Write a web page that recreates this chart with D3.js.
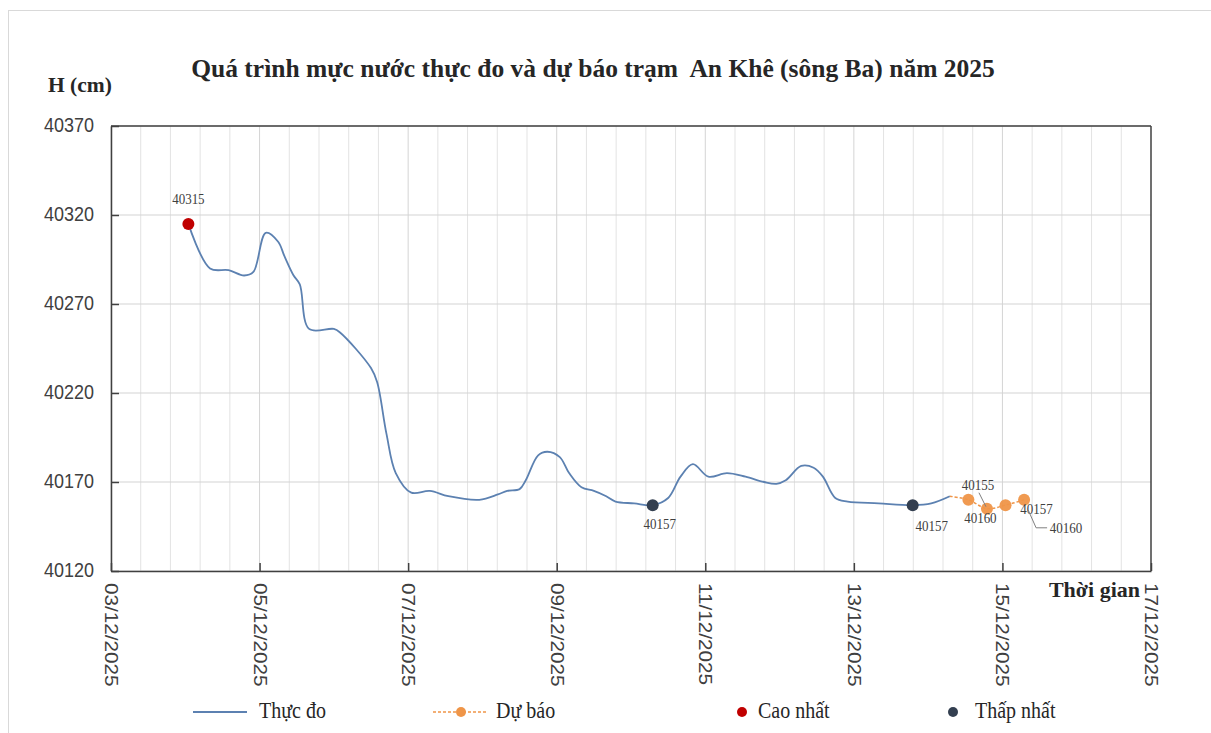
<!DOCTYPE html>
<html><head><meta charset="utf-8">
<script src="https://cdn.jsdelivr.net/npm/d3@7"></script>
<style>body{margin:0;background:#fff}text{fill:#262626;white-space:pre}</style>
</head><body><svg id="c" width="1211" height="733"></svg>
<script>
// ---------------- DATA ----------------
const obsTimes = [
 "04/12/2025 01:00","04/12/2025 08:00","04/12/2025 14:00","04/12/2025 19:00","04/12/2025 22:00",
 "05/12/2025 02:00","05/12/2025 06:00","05/12/2025 08:00","05/12/2025 11:00","05/12/2025 13:00","05/12/2025 16:00",
 "06/12/2025 00:00","06/12/2025 02:00","06/12/2025 12:00","06/12/2025 14:00","06/12/2025 17:00","06/12/2025 20:00",
 "07/12/2025 01:00","07/12/2025 07:00","07/12/2025 13:00","07/12/2025 23:00",
 "08/12/2025 05:00","08/12/2025 08:00","08/12/2025 12:00","08/12/2025 14:00","08/12/2025 18:00","08/12/2025 21:00",
 "09/12/2025 01:00","09/12/2025 04:00","09/12/2025 08:00","09/12/2025 12:00","09/12/2025 16:00","09/12/2025 19:00",
 "10/12/2025 01:00","10/12/2025 07:00","10/12/2025 12:00","10/12/2025 16:00","10/12/2025 20:00",
 "11/12/2025 01:00","11/12/2025 07:00","11/12/2025 13:00","11/12/2025 19:00","11/12/2025 23:00",
 "12/12/2025 02:00","12/12/2025 07:00","12/12/2025 11:00","12/12/2025 14:00","12/12/2025 18:00","12/12/2025 22:00",
 "13/12/2025 08:00","13/12/2025 19:00",
 "14/12/2025 01:00","14/12/2025 07:00"
];
const obsValues = [
 40315,40290,40289,40286,40288,
 40310,40305,40297,40286,40281,40256,
 40256,40254,40234,40226,40197,40175,
 40164,40165,40162,40160,
 40163,40165,40166,40171,40185,40187,
 40184,40175,40167,40165,40162,40159,
 40158,40157,40161,40173,40180,
 40173,40175,40173,40170,40169,
 40171,40179,40178,40173,40161,40159,
 40158,40157,
 40158,40162
];
const fcTimes  = ["14/12/2025 13:00","14/12/2025 19:00","15/12/2025 01:00","15/12/2025 07:00"];
const fcValues = [40160,40155,40157,40160];
const maxTimes = ["04/12/2025 01:00"];
const maxValues = [40315];
const minTimes = ["10/12/2025 07:00","13/12/2025 19:00"];
const minValues = [40157,40157];
const xTickLabels = ["03/12/2025","05/12/2025","07/12/2025","09/12/2025","11/12/2025","13/12/2025","15/12/2025","17/12/2025"];
const yTickValues = [40120,40170,40220,40270,40320,40370];
const titleText = "Quá trình mực nước thực đo và dự báo trạm  An Khê (sông Ba) năm 2025";
const yTitle = "H (cm)";
const xTitle = "Thời gian";
const legendLabels = ["Thực đo","Dự báo","Cao nhất","Thấp nhất"];

// ---------------- STYLE / LAYOUT ----------------
const C = {line:"#5c81b1", fc:"#ef9548", max:"#c00000", min:"#333f50", grid:"#d4d4d4", gridMinor:"#e3e3e3", axis:"#404040"};
const SERIF = "'Liberation Serif','Times New Roman',serif";
const SANS = "'Liberation Sans',Arial,sans-serif";
const P = {l:111, r:1151, t:126, b:571};
const SY = 1.15; // vertical text stretch
// label offsets (px) relative to their points
const fcLabelOff = [[12,23,false],[-9,-19,true],[31,9,false],[42,33,true]];
const minLabelOff = [[7,24],[19,26]];

const parse = d3.utcParse("%d/%m/%Y %H:%M");
const svg = d3.select("#c");
const x = d3.scaleUtc().domain([parse("03/12/2025 00:00"), parse("17/12/2025 00:00")]).range([P.l,P.r]);
const y = d3.scaleLinear().domain([40120,40370]).range([P.b,P.t]);

function txt(g, s, px, py, opt){
  const sy = opt.sy===undefined ? SY : opt.sy;
  const t = g.append("text").text(s)
    .attr("transform", `translate(${px},${py}) scale(1,${sy})` + (opt.rot?` rotate(${opt.rot})`:""))
    .style("font-family", opt.ff||SERIF).style("font-size", (opt.fs||13)+"px")
    .style("font-weight", opt.fw||"normal").attr("text-anchor", opt.anchor||"start");
  if(opt.fill) t.style("fill", opt.fill);
  return t;
}

// outer frame
svg.append("rect").attr("x",8.5).attr("y",10.5).attr("width",1240).attr("height",760)
  .attr("fill","none").attr("stroke","#d9d9d9");

// gridlines
const g = svg.append("g");
const x0 = parse("03/12/2025 00:00").getTime();
const DAY = 86400000;
d3.range(0, 35).forEach(i=>{
  const xx = x(new Date(x0 + i*0.4*DAY));
  g.append("line").attr("x1",xx).attr("x2",xx).attr("y1",P.t).attr("y2",P.b)
   .attr("stroke", i%5===0 ? C.grid : C.gridMinor).attr("stroke-width",1);
});
yTickValues.forEach(v=>{
  g.append("line").attr("x1",P.l).attr("x2",P.r).attr("y1",y(v)).attr("y2",y(v))
   .attr("stroke",C.grid).attr("stroke-width",1.2);
});

// axes
const xTicks = xTickLabels.map(s=>parse(s+" 00:00"));
const xa = svg.append("g").attr("transform",`translate(0,${P.b})`)
  .call(d3.axisBottom(x).tickValues(xTicks).tickSizeInner(-8).tickSizeOuter(0).tickFormat(""));
xa.select(".domain").attr("stroke",C.axis).attr("stroke-width",1.5);
xa.selectAll(".tick line").attr("stroke",C.axis).attr("stroke-width",1.5);
const ya = svg.append("g").attr("transform",`translate(${P.l},0)`)
  .call(d3.axisLeft(y).tickValues(yTickValues).tickSizeInner(-8).tickSizeOuter(0).tickFormat(""));
ya.select(".domain").attr("stroke",C.axis).attr("stroke-width",1.5);
ya.selectAll(".tick line").attr("stroke",C.axis).attr("stroke-width",1.5);
svg.append("line").attr("x1",P.l).attr("x2",P.r).attr("y1",P.t).attr("y2",P.t).attr("stroke",C.axis).attr("stroke-width",1.5);
svg.append("line").attr("x1",P.r).attr("x2",P.r).attr("y1",P.t).attr("y2",P.b).attr("stroke",C.axis).attr("stroke-width",1.5);

// tick labels
const lg = svg.append("g");
yTickValues.forEach(v=> txt(lg, String(v), 94, y(v)+6, {ff:SANS, fs:18, anchor:"end", fill:"#404040"}));
xTickLabels.forEach((s,i)=> txt(lg, s, x(xTicks[i])-6, P.b+12, {ff:SANS, fs:18, rot:90, fill:"#404040"}));

// titles
txt(lg, titleText, 593, 77, {fs:25.5, fw:"bold", anchor:"middle", sy:1.0});
txt(lg, yTitle, 48, 92, {fs:21.5, fw:"bold", sy:1.0});
txt(lg, xTitle, 1140, 597, {fs:22, fw:"bold", anchor:"end", sy:1.0});

// series
const obs = obsTimes.map((t,i)=>({t:parse(t), v:obsValues[i]}));
const fc = fcTimes.map((t,i)=>({t:parse(t), v:fcValues[i]}));
const line = d3.line().x(d=>x(d.t)).y(d=>y(d.v)).curve(d3.curveCatmullRom.alpha(0.5));
svg.append("path").datum(obs).attr("d",line).attr("fill","none").attr("stroke",C.line).attr("stroke-width",1.8);
svg.append("path").datum([obs[obs.length-1]].concat(fc)).attr("d",line).attr("fill","none")
  .attr("stroke",C.fc).attr("stroke-width",1.5).attr("stroke-dasharray","3,2");
svg.selectAll(".fcp").data(fc).join("circle").attr("cx",d=>x(d.t)).attr("cy",d=>y(d.v)).attr("r",6).attr("fill",C.fc).attr("opacity",0.95);

const mx = maxTimes.map((t,i)=>({t:parse(t), v:maxValues[i]}));
const mn = minTimes.map((t,i)=>({t:parse(t), v:minValues[i]}));
svg.selectAll(".mxp").data(mx).join("circle").attr("cx",d=>x(d.t)).attr("cy",d=>y(d.v)).attr("r",6).attr("fill",C.max);
svg.selectAll(".mnp").data(mn).join("circle").attr("cx",d=>x(d.t)).attr("cy",d=>y(d.v)).attr("r",6).attr("fill",C.min);

// data labels
const dl = svg.append("g");
mx.forEach(d=> txt(dl, String(d.v), x(d.t), y(d.v)-20, {fs:13, anchor:"middle", fill:"#404040"}));
mn.forEach((d,i)=> txt(dl, String(d.v), x(d.t)+minLabelOff[i][0], y(d.v)+minLabelOff[i][1], {fs:13, anchor:"middle", fill:"#404040"}));
fc.forEach((d,i)=>{
  const [dx,dy,lead] = fcLabelOff[i];
  const px = x(d.t), py = y(d.v);
  txt(dl, String(d.v), px+dx, py+dy, {fs:13, anchor:"middle", fill:"#404040"});
  if(lead){
    if(dy<0) dl.append("path").attr("d",`M${px+dx+1},${py+dy+3}L${px-1},${py-2}`).attr("stroke","#7f7f7f").attr("fill","none");
    else dl.append("path").attr("d",`M${px+4},${py+10}L${px+12},${py+dy-5}L${px+dx-19},${py+dy-5}`).attr("stroke","#7f7f7f").attr("fill","none");
  }
});

// legend
const LY = 712;
const leg = svg.append("g");
leg.append("line").attr("x1",193).attr("x2",247).attr("y1",LY).attr("y2",LY).attr("stroke",C.line).attr("stroke-width",2);
txt(leg, legendLabels[0], 259, LY+6, {fs:20});
leg.append("line").attr("x1",433).attr("x2",488).attr("y1",LY).attr("y2",LY).attr("stroke",C.fc).attr("stroke-width",1.5).attr("stroke-dasharray","3,2");
leg.append("circle").attr("cx",461).attr("cy",LY).attr("r",5).attr("fill",C.fc);
txt(leg, legendLabels[1], 496, LY+6, {fs:20});
leg.append("circle").attr("cx",742).attr("cy",LY).attr("r",5).attr("fill",C.max);
txt(leg, legendLabels[2], 758, LY+6, {fs:20});
leg.append("circle").attr("cx",953).attr("cy",LY).attr("r",5).attr("fill",C.min);
txt(leg, legendLabels[3], 975, LY+6, {fs:20});
</script></body></html>
